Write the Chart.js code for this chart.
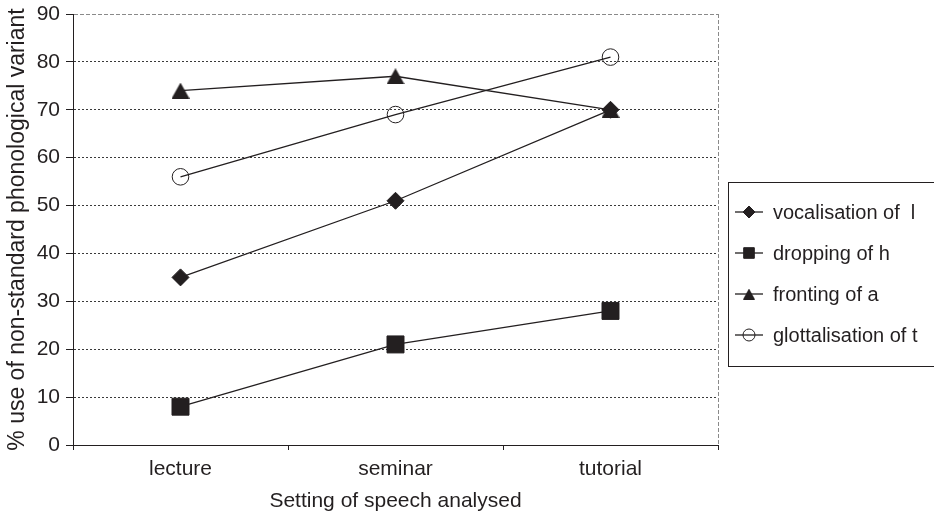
<!DOCTYPE html>
<html>
<head>
<meta charset="utf-8">
<script src="https://cdn.jsdelivr.net/npm/chart.js@4/dist/chart.umd.min.js"></script>
<style>
  html, body { margin: 0; padding: 0; background: #fff; }
  #wrap { width: 934px; height: 515px; position: relative; }
</style>
</head>
<body>
<div id="wrap"><canvas id="chart"></canvas></div>
<script>
'use strict';

// ── Data ─────────────────────────────────────────────────────
const settings = ['lecture', 'seminar', 'tutorial'];
const seriesNames = ['vocalisation of  l', 'dropping of h', 'fronting of a', 'glottalisation of t'];
const vocalisationL = [35, 51, 70];
const droppingH = [8, 21, 28];
const frontingA = [74, 77, 70];
const glottalisationT = [56, 69, 81];
const yMin = 0, yMax = 90, yStep = 10;

const INK = '#231f20';
const FONT = 'Liberation Sans, Arial, Helvetica, sans-serif';

// ── Triangle marker (bbox-centred like the original) ─────────
function triangle(w, h) {
  const c = document.createElement('canvas');
  c.width = w; c.height = h;
  const g = c.getContext('2d');
  g.fillStyle = INK;
  g.beginPath();
  g.moveTo(w / 2, 0);
  g.lineTo(w, h);
  g.lineTo(0, h);
  g.closePath();
  g.fill();
  return c;
}

function series(label, data, style, radius, legendRadius, fill) {
  return {
    label, data,
    borderColor: INK, borderWidth: 1.3,
    pointStyle: style, pointRadius: radius, pointHoverRadius: radius,
    pointBackgroundColor: fill, pointBorderColor: INK, pointBorderWidth: 1,
    legendStyle: style, legendRadius,
    tension: 0
  };
}

const datasets = [
  series(seriesNames[0], vocalisationL, 'rectRot', 8.5, 6, INK),
  series(seriesNames[1], droppingH, 'rect', 12, 7.5, INK),
  series(seriesNames[2], frontingA, triangle(18, 16), 9, 6, INK),
  series(seriesNames[3], glottalisationT, 'circle', 8.3, 6, 'rgba(0,0,0,0)')
];
datasets[2].legendStyle = triangle(12, 11);

// ── Plugins: right border + boxed legend ─────────────────────
const frame = {
  id: 'frame',
  afterDraw(chart) {
    const { ctx, chartArea: a } = chart;
    ctx.save();
    ctx.strokeStyle = '#8a8a8a';
    ctx.lineWidth = 1;
    ctx.setLineDash([4, 2]);
    ctx.beginPath();
    ctx.moveTo(Math.round(a.right) + 0.5, a.top);
    ctx.lineTo(Math.round(a.right) + 0.5, a.bottom);
    ctx.stroke();
    ctx.restore();
  }
};

const boxLegend = {
  id: 'boxLegend',
  afterDraw(chart) {
    const ctx = chart.ctx;
    ctx.save();
    ctx.strokeStyle = INK;
    ctx.lineWidth = 1;
    ctx.strokeRect(728.5, 182.5, 215, 184);
    ctx.font = '20px ' + FONT;
    ctx.textBaseline = 'middle';
    chart.data.datasets.forEach((ds, i) => {
      const y = 212 + i * 41;
      ctx.strokeStyle = INK;
      ctx.lineWidth = 1.3;
      ctx.beginPath();
      ctx.moveTo(735, y);
      ctx.lineTo(763, y);
      ctx.stroke();
      ctx.fillStyle = ds.pointBackgroundColor;
      ctx.lineWidth = 1;
      Chart.helpers.drawPoint(ctx, { pointStyle: ds.legendStyle, radius: ds.legendRadius, borderWidth: 1, rotation: 0 }, 749, y);
      ctx.fillStyle = INK;
      ctx.fillText(ds.label, 773, y + 1);
    });
    ctx.restore();
  }
};

// ── Chart ────────────────────────────────────────────────────
new Chart(document.getElementById('chart'), {
  type: 'line',
  data: { labels: settings, datasets },
  options: {
    responsive: true,
    maintainAspectRatio: false,
    animation: false,
    layout: { padding: { top: 14, right: 216, bottom: 0, left: 0 } },
    plugins: { legend: { display: false }, tooltip: { enabled: false } },
    scales: {
      x: {
        offset: true,
        grid: { offset: true, drawOnChartArea: false, tickLength: 5, tickColor: INK },
        border: { color: INK, width: 1 },
        ticks: { color: INK, font: { family: FONT, size: 21 }, padding: 7 },
        title: { display: true, text: 'Setting of speech analysed', color: INK,
                 font: { family: FONT, size: 21 }, padding: { top: 0, bottom: 1 } },
        afterFit: s => { s.height = 70; }
      },
      y: {
        min: yMin, max: yMax,
        grid: {
          color: c => c.tick && c.tick.value === yMin ? 'rgba(0,0,0,0)'
            : (c.tick && c.tick.value === yMax ? '#8a8a8a' : '#3a3a3a'),
          tickLength: 7, tickColor: INK, lineWidth: 1
        },
        border: { color: INK, width: 1,
                  dash: c => c.tick && c.tick.value === yMax ? [4, 2] : [2, 2] },
        ticks: { stepSize: yStep, color: INK, font: { family: FONT, size: 21 }, padding: 6 },
        title: { display: true, text: '% use of non-standard phonological variant', color: INK,
                 font: { family: FONT, size: 23 }, padding: { top: 4, bottom: 0 } },
        afterFit: s => { s.width = 73; s.paddingTop = 0; s.paddingBottom = 0; }
      }
    }
  },
  plugins: [frame, boxLegend]
});
</script>
</body>
</html>
